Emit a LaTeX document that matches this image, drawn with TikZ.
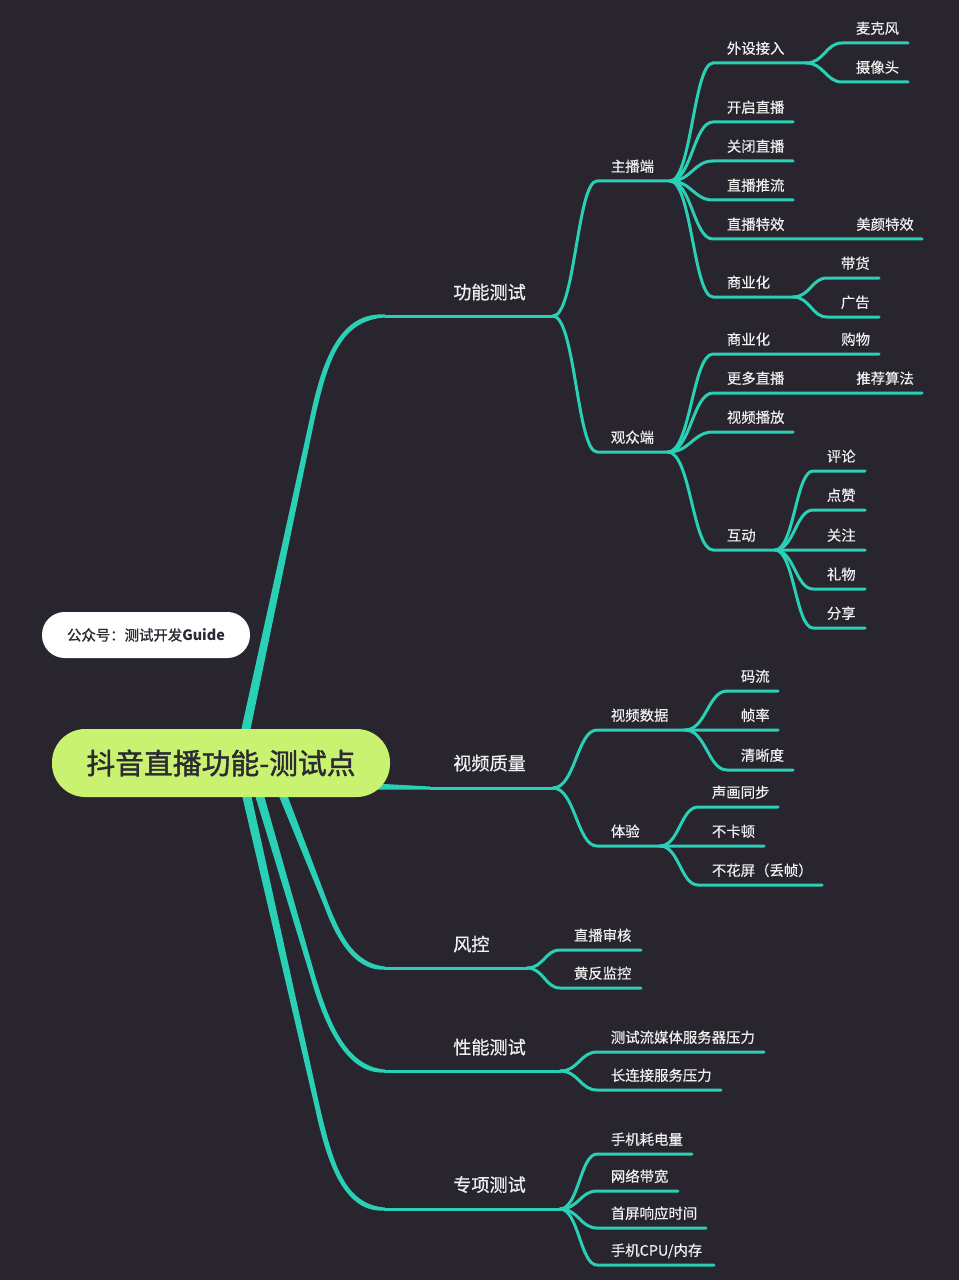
\documentclass[tikz,border=0pt]{standalone}
\usepackage{fontspec}
\setmainfont{Noto Sans CJK SC}
\newfontfamily\rootf[FakeBold=1.4]{Noto Sans CJK SC}
\newfontfamily\leaff[FakeBold=0.35]{Noto Sans CJK SC}
\newfontfamily\topf[FakeBold=0.7]{Noto Sans CJK SC}
\newfontfamily\pillf[FakeBold=1.0]{Noto Sans CJK SC}
\usetikzlibrary{calc}
\definecolor{bgc}{RGB}{41,37,46}
\definecolor{linec}{RGB}{42,208,182}
\definecolor{rootc}{RGB}{200,242,112}
\definecolor{txtc}{RGB}{240,240,240}
\definecolor{darkc}{RGB}{44,42,50}
\tikzset{
  edge/.style={draw=linec,line width=2.25pt,line cap=round,line join=round},
  leaflabel/.style={anchor=base west,inner sep=0pt,text=txtc,font=\leaff\fontsize{10.8pt}{12pt}\selectfont},
  toplabel/.style={anchor=base west,inner sep=0pt,text=txtc,font=\topf\fontsize{13.6pt}{15pt}\selectfont},
  rootbox/.style={fill=rootc,rounded corners=25pt,minimum width=253.5pt,minimum height=51pt,text=darkc,inner sep=0pt,font=\rootf\fontsize{21.6pt}{24pt}\selectfont},
  pillbox/.style={fill=white,rounded corners=17pt,minimum width=156pt,minimum height=34.5pt,text=darkc,inner sep=0pt,font=\pillf\fontsize{10.8pt}{12pt}\selectfont}
}
\newcommand{\branch}[6]{%
  \coordinate (#2-s) at (#3,#5);
  \coordinate (#2) at (#4,#5);
  \draw[edge] (#1) .. controls ($(#1)!0.5!(#2-s |- #1)$) and ($(#2-s)!0.45!(#1 |- #2-s)$) .. (#2-s) -- (#2);
  \node[leaflabel] (#2-t) at (#3+13.6,#5-9.3) {#6};
}
\newcommand{\mainb}[9]{%
  \def\mname{#1}\def\msign{#2}\def\mhub{#3}%
  \def\mxa{#4}\def\mya{#5}\def\mxb{#6}\def\myb{#7}\def\mf{#8}\def\mcx{#9}%
  \mainbc
}
\newcommand{\mainbc}[1]{%
  \coordinate (\mname-s) at (385,#1);
  \coordinate (\mname) at (\mhub,#1);
  \coordinate (L0) at (\mxa-4.7,\mya);
  \coordinate (L1) at (\mxb-2.5,\myb);
  \coordinate (R0) at (\mxa+4.7,\mya);
  \coordinate (R1) at (\mxb+2.5,\myb);
  \fill[linec] (L0) -- (L1)
     .. controls ($(L1)!-\mf!(L0)+(-1,0)$) and (\mcx,#1+\msign*4.5) .. ($(\mname-s)+(0,\msign*1.5)$)
     -- ($(\mname-s)-(0,\msign*1.5)$)
     .. controls (\mcx,#1-\msign*4.5) and ($(R1)!-\mf!(R0)+(1,0)$) .. (R1)
     -- (R0) -- cycle;
  \draw[edge] (\mname-s) -- (\mname);
}
\begin{document}
\begin{tikzpicture}[x=0.75pt,y=-0.75pt]
\useasboundingbox (0,0) rectangle (959,1280);
\fill[bgc] (0,0) rectangle (959,1280);

\mainb{a}{-1}{553}{241.5}{750}{312}{420}{0.18}{340}{316}
\mainb{c}{1}{527}{275}{775}{327}{907}{0.174}{352}{968}
\mainb{d}{1}{560}{253.5}{775}{313}{977}{0.21}{345}{1071}
\mainb{e}{1}{560}{242}{775}{318}{1110}{0.164}{345}{1209}

% 视频质量
\coordinate (b) at (553,788);
\coordinate (b-s) at (430,788);
\coordinate (broot) at (375,786.5);
\fill[linec] ($(broot)+(0,-3)$) -- ($(b-s)+(0,-1.5)$) -- ($(b-s)+(0,1.5)$) -- ($(broot)+(0,3)$) -- cycle;
\draw[edge] (b-s) -- (b);

\node[toplabel] (at) at (453,299) {功能测试};
\node[toplabel] (bt) at (453,770) {视频质量};
\node[toplabel] (ct) at (453,951) {风控};
\node[toplabel] (dt) at (453,1054) {性能测试};
\node[toplabel] (et) at (453,1191.5) {专项测试};

% 功能测试
\branch{a}{a1}{597}{670}{181}{主播端}
\branch{a}{a2}{597}{668}{452}{观众端}
\branch{a1}{a11}{713}{806}{63}{外设接入}
\branch{a11}{a111}{842}{908}{43}{麦克风}
\branch{a11}{a112}{842}{908}{82}{摄像头}
\branch{a1}{a12}{713}{793}{122}{开启直播}
\branch{a1}{a13}{713}{793}{161}{关闭直播}
\branch{a1}{a14}{713}{793}{200}{直播推流}
\branch{a1}{a15}{713}{922}{239}{直播特效}
\node[leaflabel] (a15x) at (856,229.7) {美颜特效};
\branch{a1}{a16}{713}{793}{297}{商业化}
\branch{a16}{a161}{827}{879}{278}{带货}
\branch{a16}{a162}{827}{879}{317}{广告}
\branch{a2}{a21}{713}{879}{354}{商业化}
\node[leaflabel] (a21x) at (841,344.7) {购物};
\branch{a2}{a22}{713}{922}{393}{更多直播}
\node[leaflabel] (a22x) at (856,383.7) {推荐算法};
\branch{a2}{a23}{713}{793}{432}{视频播放}
\branch{a2}{a24}{713}{775}{550}{互动}
\branch{a24}{a241}{813}{865}{471}{评论}
\branch{a24}{a242}{813}{865}{510}{点赞}
\branch{a24}{a243}{813}{865}{550}{关注}
\branch{a24}{a244}{813}{865}{589}{礼物}
\branch{a24}{a245}{813}{865}{628}{分享}

% 视频质量
\branch{b}{b1}{597}{685}{730}{视频数据}
\branch{b}{b2}{597}{660}{846}{体验}
\branch{b1}{b11}{727}{778}{691}{码流}
\branch{b1}{b12}{727}{778}{730}{帧率}
\branch{b1}{b13}{727}{793}{770}{清晰度}
\branch{b2}{b21}{698}{778}{807}{声画同步}
\branch{b2}{b22}{698}{764}{846}{不卡顿}
\branch{b2}{b23}{698}{822}{885}{不花屏（丢帧）}

% 风控
\branch{c}{c1}{560}{641}{950}{直播审核}
\branch{c}{c2}{560}{641}{988}{黄反监控}

% 性能测试
\branch{d}{d1}{597}{764}{1052}{测试流媒体服务器压力}
\branch{d}{d2}{597}{721}{1090}{长连接服务压力}

% 专项测试
\branch{e}{e1}{597}{692}{1154}{手机耗电量}
\branch{e}{e2}{597}{678}{1191}{网络带宽}
\branch{e}{e3}{597}{706}{1228}{首屏响应时间}
\branch{e}{e4}{597}{714}{1265}{手机CPU/内存}

\node[rootbox] (root) at (221,763) {抖音直播功能-测试点};
\node[pillbox] (pill) at (146,635) {公众号：测试开发{\normalfont\bfseries Guide}};
\end{tikzpicture}
\end{document}
